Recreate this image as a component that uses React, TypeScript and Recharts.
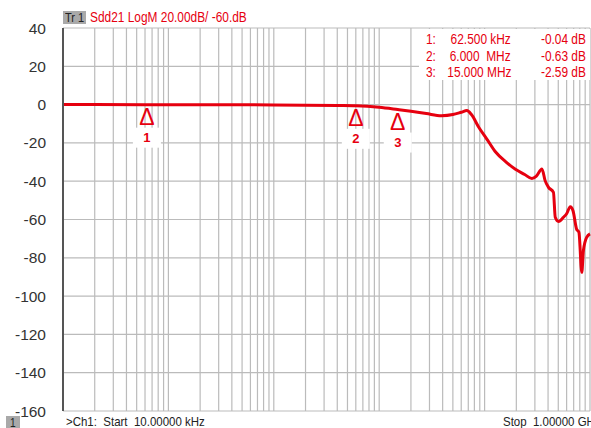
import { LineChart, Line, XAxis, YAxis, CartesianGrid, ReferenceDot } from "recharts";

// trace: frequency (Hz) and Sdd21 (dB)
const freqs = [
  1e4, 2e4, 62.5e3, 1e5, 3e5, 1e6, 2e6, 4e6, 6e6, 1e7, 1.5e7, 2e7, 2.8e7, 3.9e7, 5e7, 6e7, 6.8e7,
  7.5e7, 8.8e7, 1.05e8, 1.26e8, 1.6e8, 1.96e8, 2.4e8, 2.81e8, 3.1e8, 3.5e8, 3.75e8, 4.04e8,
  4.5e8, 4.68e8, 5.03e8, 5.6e8, 6e8, 6.5e8, 6.9e8, 7.45e8, 7.85e8, 8.36e8, 8.66e8, 9.3e8, 1e9,
];
const dbValues = [
  0, 0, -0.04, -0.05, -0.07, -0.15, -0.3, -0.5, -0.63, -1.4, -2.59, -3.5, -4.7, -5.8, -5.2, -4.0,
  -3.1, -5.2, -11.8, -18, -24.5, -30, -33.8, -36.5, -38.6, -37.3, -33.6, -39.7, -43.2, -45.8,
  -58.8, -61, -58.8, -57, -53.3, -55.4, -64.9, -66.7, -87.6, -76.2, -69.3, -67.5,
];

const yTicks = [-160, -140, -120, -100, -80, -60, -40, -20, 0, 20, 40];
const decades = [1e4, 1e5, 1e6, 1e7, 1e8];
const mantissas = [1, 2, 3, 4, 5, 6, 7, 8, 9];

const markerIds = ["1", "2", "3"];
const markerFreqs = [62500, 6e6, 15e6];
const markerValues = [-0.04, -0.63, -2.59];
const markerFreqText = ["62.500 kHz", "6.000  MHz", "15.000 MHz"];
const markerValueText = ["-0.04 dB", "-0.63 dB", "-2.59 dB"];

const titleText = "Sdd21 LogM 20.00dB/ -60.dB";
const startText = ">Ch1:  Start  10.00000 kHz";
const stopText = "Stop  1.00000 GHz";

const RED = "#e6000f";
const SANS = "'Liberation Sans', Arial, sans-serif";

const data = freqs.map((f, i) => ({ f, db: dbValues[i] }));
const xTicks = [...decades.flatMap((d) => mantissas.map((m) => m * d)), 1e9];

// instrument font is condensed, so squeeze Liberation Sans horizontally
function Narrow(props: { style: any; origin?: string; children: any }) {
  return (
    <span
      style={{
        position: "absolute",
        whiteSpace: "pre",
        fontFamily: SANS,
        transform: "scaleX(0.85)",
        transformOrigin: props.origin || "left",
        ...props.style,
      }}
    >
      {props.children}
    </span>
  );
}

function MarkerShape(props: any) {
  const { cx, cy, id } = props;
  return (
    <g>
      <rect x={cx - 14} y={cy + 23} width={28} height={20} fill="#fff" />
      <text x={cx} y={cy + 12} textAnchor="middle" dominantBaseline="central" fontSize={23} fill={RED} fontFamily={SANS}>
        Δ
      </text>
      <text x={cx} y={cy + 33} textAnchor="middle" dominantBaseline="central" fontSize={13} fontWeight="bold" fill={RED} fontFamily={SANS}>
        {id}
      </text>
    </g>
  );
}

export default function App() {
  return (
    <div style={{ position: "absolute", left: 0, top: 0, width: 591, height: 428, background: "#fff", overflow: "hidden" }}>
      <LineChart width={591} height={428} data={data} margin={{ top: 28, right: 1, bottom: 17, left: 0 }}>
        <CartesianGrid stroke="#bbbbbb" strokeWidth={1.2} />
        <XAxis
          dataKey="f"
          type="number"
          scale="log"
          domain={[1e4, 1e9]}
          ticks={xTicks}
          interval={0}
          tick={() => <g />}
          tickLine={false}
          height={0}
          axisLine={{ stroke: "#555", strokeWidth: 2 }}
        />
        <YAxis
          type="number"
          domain={[-160, 40]}
          ticks={yTicks}
          width={63}
          tickSize={0}
          tickMargin={17}
          tickLine={false}
          axisLine={{ stroke: "#555", strokeWidth: 2 }}
          tick={{ fontSize: 15.5, fill: "#333", fontFamily: SANS }}
        />
        <Line type="monotone" dataKey="db" stroke={RED} strokeWidth={3} dot={false} isAnimationActive={false} />
        {markerIds.map((id, i) => (
          <ReferenceDot
            key={id}
            x={markerFreqs[i]}
            y={markerValues[i]}
            r={0}
            shape={(p: any) => <MarkerShape {...p} id={id} />}
          />
        ))}
      </LineChart>

      {/* trace title */}
      <div style={{ position: "absolute", left: 63, top: 11, width: 23, height: 13, background: "#a9a9a9" }}>
        <Narrow style={{ left: 2, top: 0, fontSize: 13, lineHeight: "13px", color: "#222" }}>Tr 1</Narrow>
      </div>
      <Narrow style={{ left: 90, top: 9, color: RED, fontSize: 14, lineHeight: "17px" }}>{titleText}</Narrow>

      {/* marker table */}
      <div style={{ position: "absolute", left: 419, top: 29, width: 171, height: 51, background: "#fff" }}>
        {markerIds.map((id, i) => (
          <div key={id} style={{ position: "absolute", left: 0, top: 2 + i * 16.5, width: 171, height: 16, color: RED, fontSize: 14, lineHeight: "16px" }}>
            <Narrow style={{ left: 7 }}>{id + ":"}</Narrow>
            <Narrow style={{ right: 79 }} origin="right">{markerFreqText[i]}</Narrow>
            <Narrow style={{ right: 4 }} origin="right">{markerValueText[i]}</Narrow>
          </div>
        ))}
      </div>

      {/* footer */}
      <div style={{ position: "absolute", left: 6, top: 416, width: 14, height: 14, background: "#a9a9a9" }}>
        <Narrow style={{ left: 4, top: 0, fontSize: 12, lineHeight: "14px", color: "#222" }}>1</Narrow>
      </div>
      <Narrow style={{ left: 66, top: 414, color: "#222", fontSize: 13.5, lineHeight: "16px" }}>{startText}</Narrow>
      <Narrow style={{ left: 503, top: 414, color: "#222", fontSize: 13.5, lineHeight: "16px" }}>{stopText}</Narrow>
    </div>
  );
}
